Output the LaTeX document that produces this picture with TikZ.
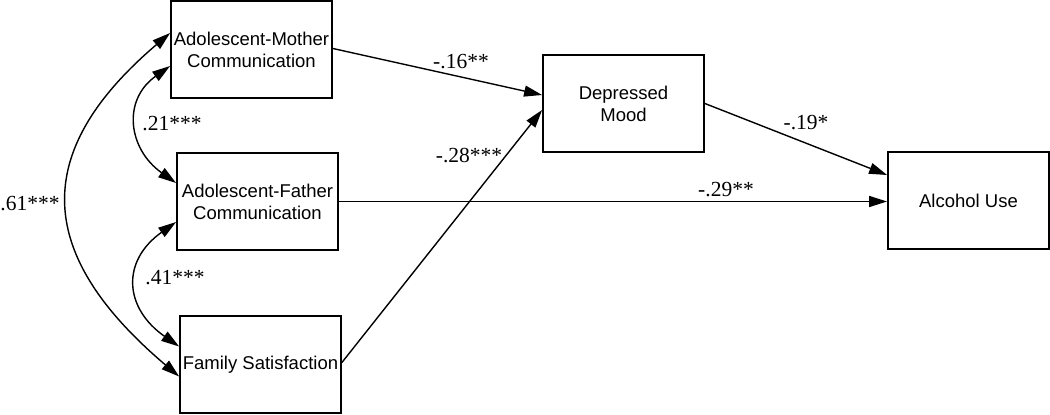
\documentclass[tikz,border=0pt]{standalone}
\usepackage{fontspec}
\setmainfont{Liberation Serif}
\newfontfamily\arialf{Liberation Sans}
\usetikzlibrary{arrows.meta,calc}
\begin{document}
\begin{tikzpicture}[x=1pt,y=-1pt,
  box/.style={draw, line width=1.8pt, minimum width=161pt, minimum height=97pt,
    inner sep=0pt, align=center, font=\arialf\fontsize{18.5}{22}\selectfont},
  tip/.tip={Triangle[length=18pt,width=11pt]},
  pth/.style={line width=1.4pt, -tip},
  cov/.style={line width=1.4pt, tip-tip},
  lab/.style={font=\fontsize{21.5}{24}\selectfont, inner sep=0pt}]
\useasboundingbox (0,0) rectangle (1050,415);

\node[box] (M) at (251.5,49.5) {Adolescent-Mother\\Communication};
\node[box] (F) at (257.5,201.5) {Adolescent-Father\\Communication};
\node[box] (S) at (260.5,364.5) {Family Satisfaction};
\node[box] (D) at (623.5,103.5) {Depressed\\Mood};
\node[box] (A) at (968.5,200.5) {Alcohol Use};

% directed paths
\draw[pth] ($(M.east)+(0,-1)$) -- ($(D.west)+(0,-8.5)$);
\draw[pth] ($(S.east)+(0,-2)$) -- ($(D.west)+(0,6.5)$);
\draw[pth] (F.east) -- (F.east -| A.west);
\draw[pth] (D.east) -- ($(A.west)+(0,-25.5)$);

% covariances
\coordinate (m1) at ($(M.west)+(0,16.5)$);
\coordinate (f1) at ($(F.west)+(0,-18.5)$);
\coordinate (f2) at ($(F.west)+(0,20.5)$);
\coordinate (s1) at ($(S.west)+(0,-18)$);
\coordinate (m2) at ($(M.west)+(0,-16.5)$);
\coordinate (s2) at ($(S.west)+(0,12)$);
\draw[cov] (m1) .. controls (122,100) and (128,149) .. (f1);
\draw[cov] (f2) .. controls (121,261) and (124,308) .. (s1);
\draw[cov] (m2) .. controls (28,154) and (37,256) .. (s2);

% labels
\node[lab] (l16) at (461,62) {-.16**};
\node[lab] (l28) at (469,156) {-.28***};
\node[lab] (l19) at (806,123) {-.19*};
\node[lab] (l29) at (726,190) {-.29**};
\node[lab] (l21) at (172,124) {.21***};
\node[lab] (l41) at (175,278) {.41***};
\node[lab] (l61) at (30,204) {.61***};
\end{tikzpicture}
\end{document}
